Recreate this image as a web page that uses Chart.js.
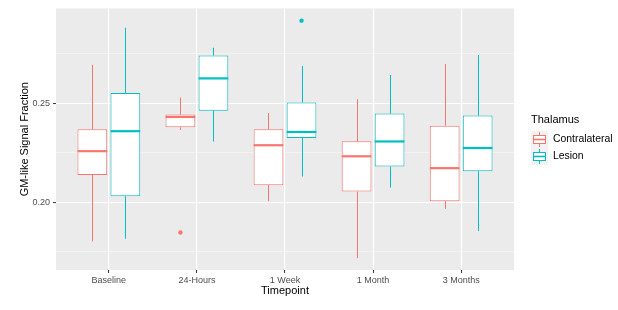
<!DOCTYPE html>
<html>
<head>
<meta charset="utf-8">
<script src="https://cdn.jsdelivr.net/npm/chart.js@4"></script>
<style>
  body { margin: 0; background: #fff; }
  #wrap { width: 618px; height: 310px; }
</style>
</head>
<body>
<div id="wrap"><canvas id="chart" width="618" height="310"></canvas></div>
<script>
// Data
const timepoints = ['Baseline', '24-Hours', '1 Week', '1 Month', '3 Months'];

// [lower whisker, Q1, median, Q3, upper whisker]
const contralateral = [
    [0.1802, 0.2138, 0.2258, 0.2369, 0.2695],
    [0.2365, 0.2379, 0.2431, 0.2443, 0.2529],
    [0.2005, 0.2086, 0.2288, 0.2369, 0.2451],
    [0.1717, 0.2054, 0.2232, 0.2308, 0.2520],
    [0.1966, 0.2005, 0.2172, 0.2387, 0.2699]
];
const lesion = [
    [0.1815, 0.2030, 0.2359, 0.2552, 0.2882],
    [0.2307, 0.2463, 0.2626, 0.2742, 0.2781],
    [0.2130, 0.2325, 0.2355, 0.2504, 0.2688],
    [0.2074, 0.2180, 0.2307, 0.2448, 0.2643],
    [0.1854, 0.2157, 0.2274, 0.2438, 0.2744]
];
const contralateralOutliers = [[], [0.1847], [], [], []];
const lesionOutliers = [[], [], [0.2918], [], []];

const yMajor = [0.20, 0.25];
const yMinor = [0.175, 0.225, 0.275];

const colors = ['#F8766D', '#00BFC4'];
const seriesNames = ['Contralateral', 'Lesion'];
const allStats = [contralateral, lesion];
const allOutliers = [contralateralOutliers, lesionOutliers];

const fontFamily = '"Liberation Sans", Arial, sans-serif';

function boxData(stats) {
    return stats.map((s, i) => ({ x: i, y: [s[1], s[3]] }));
}

// grey panel background
const panelBg = {
    id: 'panelBg',
    beforeDraw(chart) {
        const { ctx, chartArea: a } = chart;
        ctx.save();
        ctx.fillStyle = '#EBEBEB';
        ctx.fillRect(a.left, a.top, a.right - a.left, a.bottom - a.top);
        ctx.restore();
    }
};

// whiskers behind boxes, medians + outliers on top
const boxParts = {
    id: 'boxParts',
    beforeDatasetsDraw(chart) {
        const ctx = chart.ctx, y = chart.scales.y;
        ctx.save();
        allStats.forEach((stats, d) => {
            const meta = chart.getDatasetMeta(d);
            ctx.strokeStyle = colors[d];
            ctx.lineWidth = 1;
            stats.forEach((s, i) => {
                const x = Math.round(meta.data[i].x) + 0.5;
                ctx.beginPath();
                ctx.moveTo(x, y.getPixelForValue(s[0]));
                ctx.lineTo(x, y.getPixelForValue(s[1]));
                ctx.moveTo(x, y.getPixelForValue(s[3]));
                ctx.lineTo(x, y.getPixelForValue(s[4]));
                ctx.stroke();
            });
        });
        ctx.restore();
    },
    afterDatasetsDraw(chart) {
        const ctx = chart.ctx, y = chart.scales.y;
        ctx.save();
        allStats.forEach((stats, d) => {
            const meta = chart.getDatasetMeta(d);
            stats.forEach((s, i) => {
                const bar = meta.data[i];
                const half = bar.width / 2;
                const ym = y.getPixelForValue(s[2]);
                ctx.strokeStyle = colors[d];
                ctx.lineWidth = 2.2;
                ctx.beginPath();
                ctx.moveTo(bar.x - half, ym);
                ctx.lineTo(bar.x + half, ym);
                ctx.stroke();
                ctx.fillStyle = colors[d];
                allOutliers[d][i].forEach(v => {
                    ctx.beginPath();
                    ctx.arc(bar.x, y.getPixelForValue(v), 2.2, 0, Math.PI * 2);
                    ctx.fill();
                });
            });
        });
        ctx.restore();
    }
};

// ggplot-style legend on the right
const boxLegend = {
    id: 'boxLegend',
    afterDraw(chart) {
        const ctx = chart.ctx;
        const left = 531;
        ctx.save();
        ctx.fillStyle = '#000';
        ctx.font = '11px ' + fontFamily;
        ctx.textBaseline = 'middle';
        ctx.fillText('Thalamus', left, 120);
        seriesNames.forEach((name, k) => {
            const top = 131 + k * 17;
            ctx.fillStyle = '#F2F2F2';
            ctx.fillRect(left, top, 17, 17);
            const cx = left + 8.5;
            ctx.strokeStyle = colors[k];
            ctx.lineWidth = 1;
            ctx.beginPath();
            ctx.moveTo(cx, top + 1);
            ctx.lineTo(cx, top + 16);
            ctx.stroke();
            ctx.fillStyle = '#fff';
            ctx.fillRect(left + 2.5, top + 4.5, 12, 8);
            ctx.strokeRect(left + 2.5, top + 4.5, 12, 8);
            ctx.lineWidth = 1.6;
            ctx.beginPath();
            ctx.moveTo(left + 2.5, top + 8.5);
            ctx.lineTo(left + 14.5, top + 8.5);
            ctx.stroke();
            ctx.fillStyle = '#000';
            ctx.font = '10.4px ' + fontFamily;
            ctx.fillText(name, 553, top + 8.5);
        });
        ctx.restore();
    }
};

const ctx = document.getElementById('chart').getContext('2d');
const chart = new Chart(ctx, {
    type: 'bar',
    data: {
        datasets: seriesNames.map((name, d) => ({
            label: name,
            data: boxData(allStats[d]),
            backgroundColor: '#FFFFFF',
            borderColor: colors[d],
            borderWidth: 1,
            borderSkipped: false,
            inflateAmount: 0
        }))
    },
    options: {
        responsive: false,
        animation: false,
        categoryPercentage: 0.75,
        barPercentage: 0.9,
        layout: { padding: { left: 0, top: 8, right: 104, bottom: 0 } },
        plugins: {
            legend: { display: false },
            tooltip: { enabled: false }
        },
        scales: {
            x: {
                type: 'linear',
                min: -0.6,
                max: 4.6,
                offset: false,
                afterBuildTicks: axis => { axis.ticks = timepoints.map((t, i) => ({ value: i })); },
                afterFit: axis => { axis.height = 40; },
                border: { display: false },
                grid: {
                    offset: false,
                    color: '#FFFFFF',
                    lineWidth: 1.1,
                    tickLength: 3,
                    tickColor: '#333333',
                    tickWidth: 1
                },
                ticks: {
                    padding: 2,
                    maxRotation: 0,
                    color: '#4D4D4D',
                    font: { family: fontFamily, size: 9 },
                    callback: v => timepoints[v]
                },
                title: {
                    display: true,
                    text: 'Timepoint',
                    color: '#000',
                    font: { family: fontFamily, size: 11 },
                    padding: { top: 0, bottom: 12 }
                }
            },
            y: {
                min: 0.1657,
                max: 0.298,
                afterBuildTicks: axis => {
                    axis.ticks = [...yMinor, ...yMajor].sort((a, b) => a - b).map(v => ({ value: v }));
                },
                afterFit: axis => { axis.width = 56; },
                border: { display: false },
                grid: {
                    color: c => yMajor.includes(c.tick.value) ? '#FFFFFF' : 'rgba(255,255,255,0.75)',
                    lineWidth: c => yMajor.includes(c.tick.value) ? 1.1 : 0.55,
                    tickLength: 3,
                    tickColor: c => yMajor.includes(c.tick.value) ? '#333333' : 'rgba(0,0,0,0)',
                    tickWidth: 1
                },
                ticks: {
                    padding: 3,
                    color: '#4D4D4D',
                    font: { family: fontFamily, size: 9 },
                    callback: v => yMajor.includes(v) ? v.toFixed(2) : ''
                },
                title: {
                    display: true,
                    text: 'GM-like Signal Fraction',
                    color: '#000',
                    font: { family: fontFamily, size: 11 },
                    padding: { top: 18, bottom: 0 }
                }
            }
        }
    },
    plugins: [panelBg, boxParts, boxLegend]
});
</script>
</body>
</html>
